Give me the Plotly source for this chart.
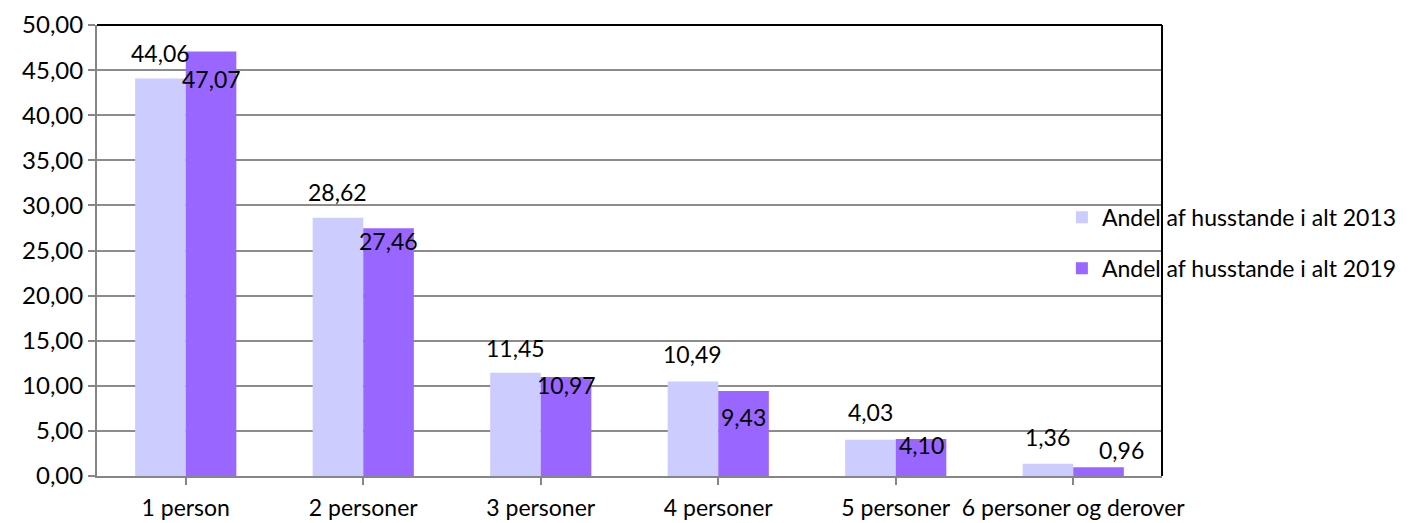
import plotly.graph_objects as go

categories = ['1 person', '2 personer', '3 personer', '4 personer', '5 personer', '6 personer og derover']
andel_2013 = [44.06, 28.62, 11.45, 10.49, 4.03, 1.36]
andel_2019 = [47.07, 27.46, 10.97, 9.43, 4.10, 0.96]
names = ['Andel af husstande i alt 2013', 'Andel af husstande i alt 2019']

# label nudges (pixels) to mimic the hand-placed labels in the original
shift_2013 = [26, 26, 25, 27, 28, 27]
shift_2019 = [-28, -13, -8, -26, -6, 17]
xshift_2019 = [0, 0, 0, 0, 0, 23]

FONT = 'Lato'
FS = 23
half = 0.1425  # half of a bar, in category units

fig = go.Figure()
fig.add_trace(go.Bar(x=list(range(6)), y=andel_2013, name=names[0], legendgroup='a',
                     marker=dict(color='#CCCCFF', line=dict(width=0))))
fig.add_trace(go.Bar(x=list(range(6)), y=andel_2019, name=names[1], legendgroup='b',
                     marker=dict(color='#9966FF', line=dict(width=0))))

def fmt(v):
    return f"{v:.2f}".replace('.', ',')

for i, v in enumerate(andel_2013):
    fig.add_annotation(x=i - half, y=v, text=fmt(v), showarrow=False,
                       yshift=shift_2013[i], font=dict(size=FS, color='black'))
for i, v in enumerate(andel_2019):
    fig.add_annotation(x=i + half, y=v, text=fmt(v), showarrow=False,
                       yshift=shift_2019[i], xshift=xshift_2019[i],
                       font=dict(size=FS, color='black'))

# black frame on top and right
fig.add_shape(type='line', xref='paper', yref='paper', x0=0, x1=1, y0=1, y1=1,
              line=dict(color='black', width=2))
fig.add_shape(type='line', xref='paper', yref='paper', x0=1, x1=1, y0=0, y1=1,
              line=dict(color='black', width=2))

# page body has an 8px margin, so the figure is a bit smaller
fig.update_layout(
    width=1409, height=515,
    margin=dict(l=89, r=255, t=17, b=47, autoexpand=False),
    plot_bgcolor='white', paper_bgcolor='white',
    font=dict(family=FONT, size=FS, color='black'),
    separators=',.',
    barmode='group', bargap=0.43, bargroupgap=0,
    showlegend=True,
    legend=dict(x=0.906, xanchor='left', y=0.517, yanchor='middle',
                bgcolor='rgba(0,0,0,0)', font=dict(size=FS),
                traceorder='grouped', tracegroupgap=18, itemwidth=30),
    xaxis=dict(tickmode='array', tickvals=list(range(6)), ticktext=categories,
               range=[-0.5, 5.5], showgrid=False, showline=True,
               linecolor='#868686', linewidth=2, ticks='outside', tickson='boundaries',
               ticklen=7, tickcolor='#868686', tickwidth=2, ticklabelstandoff=3),
    yaxis=dict(range=[0, 50], dtick=5, tickformat='.2f', showgrid=True,
               gridcolor='#8c8c8c', gridwidth=1.5, showline=True, linecolor='#868686',
               linewidth=2, ticks='outside', ticklen=7, tickcolor='#868686',
               tickwidth=2, zeroline=False, tickfont=dict(size=24)),
)

fig.write_html("out.html")
